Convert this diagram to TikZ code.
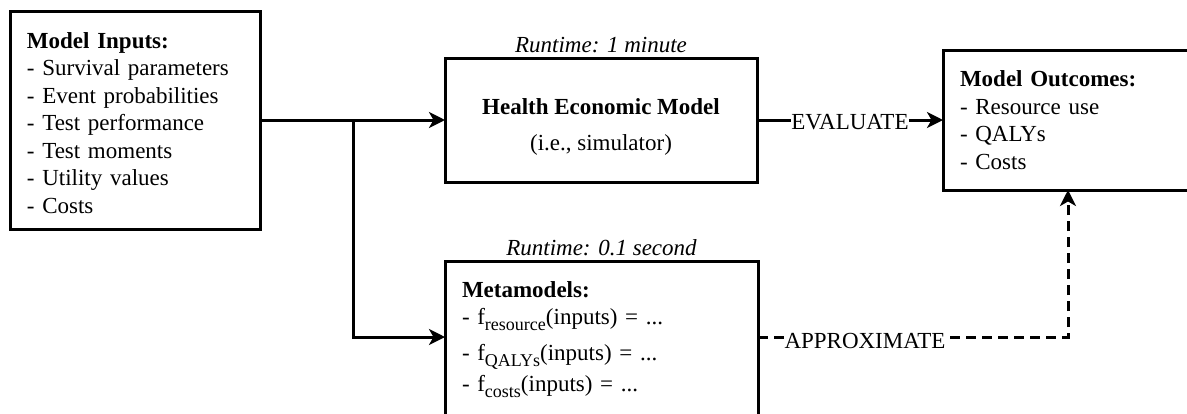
\documentclass[tikz,border=0pt]{standalone}
\usepackage{fontspec}
\setmainfont{Liberation Serif}
\usetikzlibrary{arrows.meta}
% lowered, slightly smaller subscript text
\newcommand\lowsub[1]{\raisebox{-6pt}{\fontsize{18}{18}\selectfont #1}}
\begin{document}
\begin{tikzpicture}[x=1pt,y=-1pt,
  box/.style={draw,line width=3pt,rectangle,inner sep=0pt,outer sep=0pt},
  listbox/.style={box,align=left,inner xsep=17pt,inner ysep=0pt},
  conn/.style={line width=3pt,-{Stealth[length=16pt,width=16pt,inset=4.5pt]}},
  tag/.style={fill=white,inner sep=0pt,font=\fontsize{23}{27.5}\selectfont},
  runtime/.style={anchor=base,inner sep=0pt,font=\fontsize{23}{27.5}\selectfont\itshape},
  every node/.append style={font=\fontsize{23}{27.5}\selectfont}
]
\useasboundingbox (0,0) rectangle (1187,413);
\clip (0,0) rectangle (1187,413);

% inputs of the model
\node[listbox,minimum width=250pt,minimum height=218pt,text width=216pt] (inputs) at (135,120)
  {\rule{0pt}{22pt}\textbf{Model Inputs:}\\- Survival parameters\\- Event probabilities\\- Test performance\\- Test moments\\- Utility values\\- Costs};

% the simulator
\node[box,align=center,minimum width=312pt,minimum height=124pt] (hem) at (601,120)
  {\rule{0pt}{30pt}\textbf{Health Economic Model}\\[8pt](i.e., simulator)};

% outcomes
\node[listbox,minimum width=250pt,minimum height=140pt,text width=216pt] (outc) at (1068,120)
  {\textbf{Model Outcomes:}\\- Resource use\\- QALYs\\- Costs};

% metamodels
\node[listbox,minimum width=313pt,minimum height=157pt,text width=279pt] (meta) at (601.5,339.5)
  {\textbf{Metamodels:}\\[0pt]- f\lowsub{resource}(inputs) = ...\\[8pt]- f\lowsub{QALYs}(inputs) = ...\\[4pt]- f\lowsub{costs}(inputs) = ...};

% runtime annotations
\node[runtime] (rt1) at ([yshift=6pt]hem.north) {Runtime: 1 minute};
\node[runtime] (rt2) at ([yshift=6pt]meta.north) {Runtime: 0.1 second};

% connectors
\coordinate (split) at (353,120);
\draw[conn] (inputs.east) -- (hem.west);
\draw[conn] (split) |- ([yshift=2.5pt]meta.west);
\draw[conn] (hem.east) -- node[tag,yshift=-2pt] (ev) {EVALUATE} (outc.west);
\draw[conn,dash pattern=on 10pt off 6pt] ([yshift=2.5pt]meta.east) -| node[tag,pos=0.1726,yshift=-4pt] (ap) {APPROXIMATE} (outc.south);
\end{tikzpicture}
\end{document}
